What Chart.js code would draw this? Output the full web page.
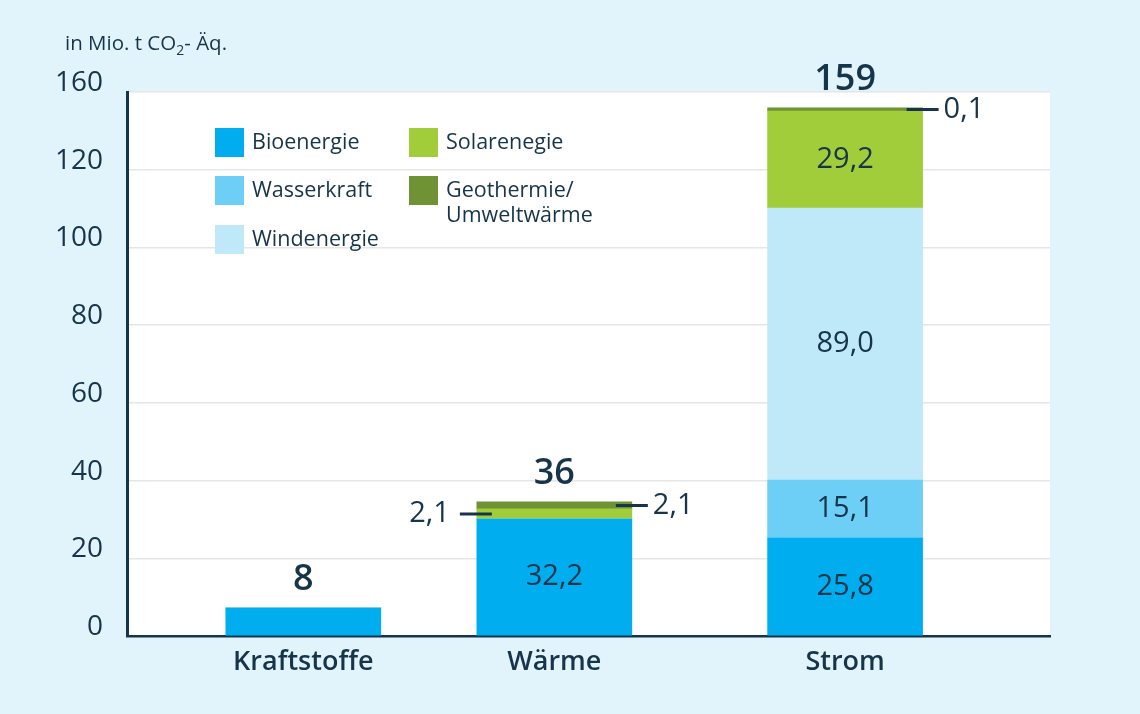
<!DOCTYPE html>
<html lang="de">
<head>
<meta charset="UTF-8">
<title>Vermiedene Treibhausgasemissionen</title>
<script src="https://cdn.jsdelivr.net/npm/chart.js@4"></script>
<style>
  html, body { margin: 0; padding: 0; background: #e1f4fb; }
</style>
</head>
<body>
<canvas id="canvas" width="1140" height="714"></canvas>
<script>
    // bar heights as drawn in the graphic (it is not to scale), printed values separately
    const categories = ['Kraftstoffe', 'Wärme', 'Strom'];
    const bioenergie = [7.2, 30.1, 25.2];
    const wasserkraft = [0, 0, 14.9];
    const windenergie = [0, 0, 70.0];
    const solarenergie = [0, 2.6, 25.0];
    const geothermie = [0, 1.8, 0.8];

    const bioLabels = ['', '32,2', '25,8'];
    const wasserLabels = ['', '', '15,1'];
    const windLabels = ['', '', '89,0'];
    const solarLabels = ['', '2,1', '29,2'];
    const geoLabels = ['', '2,1', '0,1'];
    const totals = ['8', '36', '159'];

    const yTickLabels = ['0', '20', '40', '60', '80', '100', '120', '160'];

    // layout: where each category sits on the 0..100 x scale
    const catX = [19.1, 46.3, 77.8];

    const FONT = '"Open Sans", "Noto Sans", sans-serif';
    const INK = '#16344a';

    const series = [
        {label: 'Bioenergie', data: bioenergie, text: bioLabels, color: '#00aeef', side: 'left'},
        {label: 'Wasserkraft', data: wasserkraft, text: wasserLabels, color: '#6dcff6', side: 'left'},
        {label: 'Windenergie', data: windenergie, text: windLabels, color: '#bfe8f9', side: 'left'},
        {label: 'Solarenegie', data: solarenergie, text: solarLabels, color: '#a2cd3a', side: 'left'},
        {label: 'Geothermie/\nUmweltwärme', data: geothermie, text: geoLabels, color: '#6f9234', side: 'right'}
    ];

    const decor = {
        id: 'decor',
        beforeDraw(chart) {
            const {ctx, chartArea: a} = chart;
            ctx.save();
            ctx.fillStyle = '#e1f4fb';
            ctx.fillRect(0, 0, chart.width, chart.height);
            ctx.fillStyle = '#ffffff';
            ctx.fillRect(a.left, a.top, a.right - a.left, a.bottom - a.top);
            ctx.restore();
        },
        afterDraw(chart) {
            const ctx = chart.ctx;
            const xs = chart.scales.x;
            ctx.save();
            ctx.fillStyle = INK;
            ctx.strokeStyle = INK;

            // segment values
            ctx.font = '29px ' + FONT;
            series.forEach((s, i) => {
                const meta = chart.getDatasetMeta(i);
                meta.data.forEach((bar, j) => {
                    const t = s.text[j];
                    if (!t) return;
                    const h = bar.base - bar.y;
                    const midY = (bar.y + bar.base) / 2;
                    if (h > 20) {
                        ctx.textAlign = 'center';
                        ctx.textBaseline = 'middle';
                        ctx.fillText(t, bar.x, midY);
                    } else {
                        const l = bar.x - bar.width / 2;
                        const r = bar.x + bar.width / 2;
                        ctx.lineWidth = 3;
                        ctx.beginPath();
                        ctx.textBaseline = 'middle';
                        if (s.side === 'left') {
                            ctx.moveTo(l - 17, midY);
                            ctx.lineTo(l + 15, midY);
                            ctx.stroke();
                            ctx.textAlign = 'right';
                            ctx.fillText(t, l - 27, midY);
                        } else {
                            ctx.moveTo(r - 16, midY);
                            ctx.lineTo(r + 16, midY);
                            ctx.stroke();
                            ctx.textAlign = 'left';
                            ctx.fillText(t, r + 21, midY);
                        }
                    }
                });
            });

            // totals above the stacks
            const top = chart.getDatasetMeta(series.length - 1);
            ctx.font = '600 36px ' + FONT;
            ctx.textAlign = 'center';
            ctx.textBaseline = 'middle';
            top.data.forEach((bar, j) => {
                ctx.fillText(totals[j], bar.x, bar.y - 28);
            });

            // category labels
            ctx.font = '600 27px ' + FONT;
            categories.forEach((c, j) => {
                ctx.fillText(c, xs.getPixelForValue(catX[j]), 662);
            });

            // legend
            const cols = [215, 409];
            const rows = [128, 176, 225];
            const slots = [[0, 0], [0, 1], [0, 2], [1, 0], [1, 1]];
            ctx.font = '21.5px ' + FONT;
            ctx.textAlign = 'left';
            series.forEach((s, i) => {
                const x = cols[slots[i][0]];
                const y = rows[slots[i][1]];
                ctx.fillStyle = s.color;
                ctx.fillRect(x, y, 29, 29);
                ctx.fillStyle = INK;
                s.label.split('\n').forEach((line, k) => {
                    ctx.fillText(line, x + 37, y + 15 + k * 25);
                });
            });

            // unit
            ctx.font = '20.5px ' + FONT;
            ctx.textBaseline = 'alphabetic';
            let ux = 65;
            ctx.fillText('in Mio. t CO', ux, 50);
            ux += ctx.measureText('in Mio. t CO').width;
            ctx.font = '14px ' + FONT;
            ctx.fillText('2', ux, 55);
            ux += ctx.measureText('2').width;
            ctx.font = '20.5px ' + FONT;
            ctx.fillText('- Äq.', ux, 50);
            ctx.restore();
        }
    };

    const chart = new Chart('canvas', {
        type: 'bar',
        data: {
            datasets: series.map(s => ({
                label: s.label,
                data: s.data.map((v, j) => ({x: catX[j], y: v})),
                backgroundColor: s.color,
                borderWidth: 0,
                barThickness: 155
            }))
        },
        options: {
            responsive: false,
            animation: false,
            layout: {padding: {left: 0, top: 92, right: 90, bottom: 78}},
            plugins: {
                legend: {display: false},
                tooltip: {enabled: false}
            },
            scales: {
                x: {
                    type: 'linear',
                    stacked: true,
                    offset: false,
                    min: 0,
                    max: 100,
                    ticks: {display: false},
                    grid: {display: false},
                    border: {display: true, color: INK, width: 2.5},
                    afterFit(s) { s.height = 0; }
                },
                y: {
                    stacked: true,
                    min: 0,
                    max: 140,
                    ticks: {
                        stepSize: 20,
                        padding: 24,
                        labelOffset: -9,
                        color: INK,
                        font: {family: FONT, size: 28},
                        callback: (v, i) => yTickLabels[i]
                    },
                    grid: {color: '#e6e6e6', lineWidth: 1.5, drawTicks: false},
                    border: {display: true, color: INK, width: 3},
                    afterFit(s) { s.width = 127; }
                }
            }
        },
        plugins: [decor]
    });
</script>
</body>
</html>
